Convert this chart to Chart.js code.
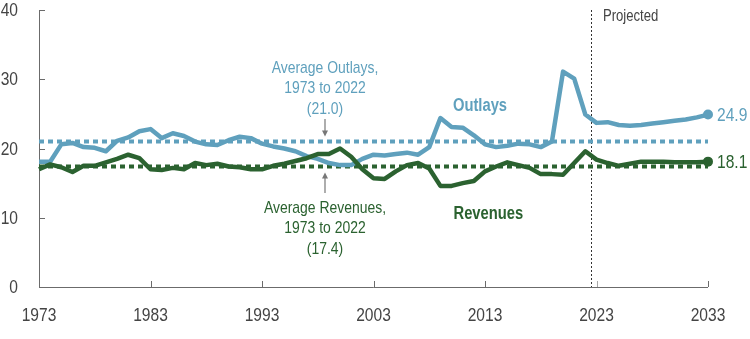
<!DOCTYPE html>
<html>
<head>
<meta charset="utf-8">
<script src="https://cdn.jsdelivr.net/npm/chart.js@4/dist/chart.umd.min.js"></script>
<style>
	html, body { margin: 0; padding: 0; background: #fff; }
	#wrap { width: 750px; height: 339px; }
</style>
</head>
<body>
<div id="wrap"><canvas id="chart__budget" width="750" height="339"></canvas></div>
<script>
// Federal outlays and revenues, percentage of GDP
const years = [
	1973, 1974, 1975, 1976, 1977, 1978, 1979, 1980, 1981, 1982,
	1983, 1984, 1985, 1986, 1987, 1988, 1989, 1990, 1991, 1992,
	1993, 1994, 1995, 1996, 1997, 1998, 1999, 2000, 2001, 2002,
	2003, 2004, 2005, 2006, 2007, 2008, 2009, 2010, 2011, 2012,
	2013, 2014, 2015, 2016, 2017, 2018, 2019, 2020, 2021, 2022,
	2023, 2024, 2025, 2026, 2027, 2028, 2029, 2030, 2031, 2032, 2033,
];
const outlays = [
	18.1, 18.1, 20.6, 20.8, 20.2, 20.1, 19.6, 21.1, 21.6, 22.5,
	22.8, 21.5, 22.2, 21.8, 21.0, 20.6, 20.5, 21.2, 21.7, 21.5,
	20.7, 20.3, 20.0, 19.6, 18.9, 18.5, 17.9, 17.6, 17.6, 18.5,
	19.1, 19.0, 19.2, 19.4, 19.1, 20.2, 24.4, 23.1, 23.0, 21.9,
	20.6, 20.2, 20.4, 20.7, 20.6, 20.2, 21.0, 31.1, 30.1, 24.9,
	23.7, 23.8, 23.4, 23.3, 23.4, 23.6, 23.8, 24.0, 24.2, 24.5, 24.9,
];
const revenues = [
	17.0, 17.7, 17.3, 16.6, 17.5, 17.5, 18.0, 18.5, 19.1, 18.6,
	17.0, 16.9, 17.2, 17.0, 17.9, 17.6, 17.8, 17.4, 17.3, 17.0,
	17.0, 17.5, 17.8, 18.2, 18.6, 19.2, 19.2, 20.0, 18.8, 17.0,
	15.7, 15.6, 16.7, 17.6, 17.9, 17.1, 14.6, 14.6, 15.0, 15.3,
	16.7, 17.4, 18.0, 17.6, 17.2, 16.3, 16.3, 16.2, 17.9, 19.6,
	18.4, 17.9, 17.5, 17.8, 18.1, 18.1, 18.1, 18.0, 18.0, 18.0, 18.1,
];
const avgOutlays = 21.0;
const avgRevenues = 17.4;
const projectionStart = 2022.5;
const xTicks = [1973, 1983, 1993, 2003, 2013, 2023, 2033];
const yTicks = [0, 10, 20, 30, 40];

const BLUE = "#5fa0bd";
const GREEN = "#2b6230";
const AXIS = "#6b6b6b";
const INK = "#444";
const FONT = "'Liberation Sans', Arial, sans-serif";
const NARROW = 0.82; // squeeze text horizontally for a condensed look

const toPoints = (values) => values.map((v, i) => ({ x: years[i], y: v }));
const flatLine = (value) => [
	{ x: years[0], y: value },
	{ x: years[years.length - 1], y: value },
];
const lastOnly = (radius) => (ctx) => (ctx.dataIndex === years.length - 1 ? radius : 0);

// Draw condensed text
const narrowText = (ctx, text, x, y, font, color, align = "center") => {
	ctx.save();
	ctx.translate(x, y);
	ctx.scale(NARROW, 1);
	ctx.font = font;
	ctx.fillStyle = color;
	ctx.textAlign = align;
	ctx.textBaseline = "middle";
	ctx.fillText(text, 0, 0);
	ctx.restore();
};

// Axis lines, inward ticks, tick labels, projection divider
const axesPlugin = {
	id: "axes",
	beforeDatasetsDraw: (chart) => {
		const { ctx, chartArea: a, scales } = chart;
		const xs = scales.x;
		const ys = scales.y;
		ctx.save();
		ctx.strokeStyle = AXIS;
		ctx.lineWidth = 1;
		ctx.beginPath();
		ctx.moveTo(a.left + 0.5, a.top);
		ctx.lineTo(a.left + 0.5, a.bottom + 0.5);
		ctx.lineTo(a.right, a.bottom + 0.5);
		ctx.stroke();
		yTicks.forEach((t) => {
			const y = Math.round(ys.getPixelForValue(t)) + 0.5;
			ctx.beginPath();
			ctx.moveTo(a.left, y);
			ctx.lineTo(a.left + 6, y);
			ctx.stroke();
			narrowText(ctx, String(t), a.left - 21, ys.getPixelForValue(t) + 1, `19px ${FONT}`, INK, "right");
		});
		xTicks.forEach((t) => {
			const x = Math.round(xs.getPixelForValue(t)) + 0.5;
			ctx.strokeStyle = t === 2023 ? "#a8a8a8" : AXIS;
			ctx.beginPath();
			ctx.moveTo(x, a.bottom);
			ctx.lineTo(x, a.bottom - 6);
			ctx.stroke();
			narrowText(ctx, String(t), xs.getPixelForValue(t), a.bottom + 29, `19px ${FONT}`, INK);
		});
		const px = Math.round(xs.getPixelForValue(projectionStart)) + 0.5;
		ctx.strokeStyle = "#333";
		ctx.setLineDash([2, 2]);
		ctx.beginPath();
		ctx.moveTo(px, a.top);
		ctx.lineTo(px, a.bottom);
		ctx.stroke();
		ctx.restore();
	},
	// Notes, arrows and end values
	afterDatasetsDraw: (chart) => {
		const { ctx, scales } = chart;
		const xs = scales.x;
		const ys = scales.y;
		const noteX = xs.getPixelForValue(1998.65);
		const noteFont = `17px ${FONT}`;
		["Average Outlays,", "1973 to 2022", "(21.0)"].forEach((s, i) =>
			narrowText(ctx, s, noteX, 68 + i * 20.5, noteFont, BLUE));
		["Average Revenues,", "1973 to 2022", "(17.4)"].forEach((s, i) =>
			narrowText(ctx, s, noteX, 208 + i * 20.5, noteFont, GREEN));

		const drawArrow = (x, y0, y1) => {
			const dir = Math.sign(y1 - y0);
			ctx.save();
			ctx.strokeStyle = "#777";
			ctx.fillStyle = "#777";
			ctx.lineWidth = 1.2;
			ctx.beginPath();
			ctx.moveTo(x, y0);
			ctx.lineTo(x, y1 - dir * 4);
			ctx.stroke();
			ctx.beginPath();
			ctx.moveTo(x, y1);
			ctx.lineTo(x - 3, y1 - dir * 6);
			ctx.lineTo(x + 3, y1 - dir * 6);
			ctx.closePath();
			ctx.fill();
			ctx.restore();
		};
		drawArrow(noteX, 119, ys.getPixelForValue(avgOutlays) - 5);
		drawArrow(noteX, 193, ys.getPixelForValue(avgRevenues) + 6);

		narrowText(ctx, "Outlays", xs.getPixelForValue(2012.55), 106, `bold 18px ${FONT}`, BLUE);
		narrowText(ctx, "Revenues", xs.getPixelForValue(2013.3), 214, `bold 18px ${FONT}`, GREEN);

		const last = years.length - 1;
		const endX = xs.getPixelForValue(years[last]) + 9;
		narrowText(ctx, outlays[last].toFixed(1), endX, ys.getPixelForValue(outlays[last]) + 1, `19px ${FONT}`, BLUE, "left");
		narrowText(ctx, revenues[last].toFixed(1), endX, ys.getPixelForValue(revenues[last]) + 1, `19px ${FONT}`, GREEN, "left");

		narrowText(ctx, "Projected", xs.getPixelForValue(projectionStart) + 12, 17, `16px ${FONT}`, INK, "left");
	},
};

const ctx = document.getElementById("chart__budget");
new Chart(ctx, {
	type: "line",
	data: {
		datasets: [
			{
				data: toPoints(outlays),
				borderColor: BLUE,
				backgroundColor: BLUE,
				borderWidth: 4.5,
				pointRadius: lastOnly(5),
				pointBorderWidth: 0,
				borderJoinStyle: "round",
				clip: false,
				order: 1,
			},
			{
				data: toPoints(revenues),
				borderColor: GREEN,
				backgroundColor: GREEN,
				borderWidth: 4.5,
				pointRadius: lastOnly(5),
				pointBorderWidth: 0,
				borderJoinStyle: "round",
				clip: false,
				order: 0,
			},
			{
				data: flatLine(avgOutlays),
				borderColor: BLUE,
				borderWidth: 4,
				borderDash: [5, 4],
				pointRadius: 0,
				order: 3,
			},
			{
				data: flatLine(avgRevenues),
				borderColor: GREEN,
				borderWidth: 4,
				borderDash: [5, 4],
				pointRadius: 0,
				order: 2,
			},
		],
	},
	options: {
		responsive: false,
		animation: false,
		layout: { padding: { top: 10, right: 42, left: 0, bottom: 0 } },
		plugins: {
			legend: { display: false },
			tooltip: { enabled: false },
		},
		scales: {
			x: {
				type: "linear",
				min: 1973,
				max: 2033,
				afterFit: (scale) => {
					scale.height = 52;
					scale.paddingLeft = 0;
					scale.paddingRight = 0;
				},
				ticks: { display: false },
				grid: { display: false, drawTicks: false },
				border: { display: false },
			},
			y: {
				min: 0,
				max: 40,
				afterFit: (scale) => {
					scale.width = 39;
					scale.paddingTop = 0;
					scale.paddingBottom = 0;
				},
				ticks: { display: false },
				grid: { display: false, drawTicks: false },
				border: { display: false },
			},
		},
	},
	plugins: [axesPlugin],
});
</script>
</body>
</html>
